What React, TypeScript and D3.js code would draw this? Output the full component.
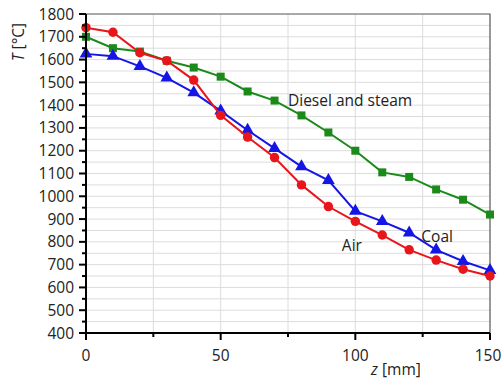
import { useEffect, useRef } from "react";
import * as d3 from "d3";

const zPositions = [0, 10, 20, 30, 40, 50, 60, 70, 80, 90, 100, 110, 120, 130, 140, 150];
const airTemps = [1740, 1720, 1630, 1595, 1510, 1355, 1260, 1170, 1050, 955, 890, 830, 765, 720, 680, 650];
const coalTemps = [1625, 1615, 1570, 1520, 1455, 1375, 1290, 1210, 1130, 1070, 935, 890, 840, 765, 715, 675];
const dieselTemps = [1700, 1650, 1635, 1595, 1565, 1525, 1460, 1420, 1355, 1280, 1200, 1105, 1085, 1030, 985, 920];
const yTicks = [400, 500, 600, 700, 800, 900, 1000, 1100, 1200, 1300, 1400, 1500, 1600, 1700, 1800];
const xTicks = [0, 50, 100, 150];

const FONT = "'Open Sans', sans-serif";

export default function App() {
  const svgRef = useRef<SVGSVGElement>(null);

  useEffect(() => {
    if (!svgRef.current) return;
    const svg = d3.select(svgRef.current);
    svg.selectAll("*").remove();

    const left = 86, right = 490, top = 14, bottom = 333;
    const x = d3.scaleLinear().domain([0, 150]).range([left, right]);
    const y = d3.scaleLinear().domain([400, 1800]).range([bottom, top]);

    // ── Grid ──────────────────────────────────────────
    const g = svg.append("g");
    g.selectAll("line.hg")
      .data(d3.range(450, 1800, 50))
      .join("line")
      .attr("x1", left).attr("x2", right)
      .attr("y1", (d) => y(d)).attr("y2", (d) => y(d))
      .attr("stroke", "#dcdcdc").attr("stroke-width", 1);
    g.selectAll("line.vg")
      .data([25, 50, 75, 100, 125])
      .join("line")
      .attr("x1", (d) => x(d)).attr("x2", (d) => x(d))
      .attr("y1", top).attr("y2", bottom)
      .attr("stroke", "#dcdcdc").attr("stroke-width", 1);

    // frame top/right
    svg.append("path")
      .attr("d", `M${left},${top}H${right}V${bottom}`)
      .attr("fill", "none").attr("stroke", "#555").attr("stroke-width", 1.2);

    // ── Series ───────────────────────────────────────
    const series = [
      { vals: dieselTemps, color: "#1b8a1b", marker: "square" },
      { vals: coalTemps, color: "#1515e6", marker: "triangle" },
      { vals: airTemps, color: "#e8151b", marker: "circle" },
    ];
    const line = d3.line<number>().x((_, i) => x(zPositions[i])).y((d) => y(d));
    series.forEach((s) => {
      svg.append("path")
        .attr("d", line(s.vals))
        .attr("fill", "none").attr("stroke", s.color).attr("stroke-width", 2);
      const sym =
        s.marker === "square" ? d3.symbol(d3.symbolSquare, 64)
        : s.marker === "triangle" ? d3.symbol(d3.symbolTriangle, 70)
        : d3.symbol(d3.symbolCircle, 70);
      svg.selectAll(null)
        .data(s.vals)
        .join("path")
        .attr("d", sym()!)
        .attr("transform", (d, i) => `translate(${x(zPositions[i])},${y(d)})`)
        .attr("fill", s.color);
    });

    // ── Axes ─────────────────────────────────────────
    const ax = svg.append("g").attr("stroke", "#000").attr("stroke-width", 2);
    ax.append("line").attr("x1", left).attr("x2", left).attr("y1", top).attr("y2", bottom + 1);
    ax.append("line").attr("x1", left - 1).attr("x2", right).attr("y1", bottom).attr("y2", bottom);
    ax.selectAll("line.yt")
      .data(d3.range(400, 1801, 50))
      .join("line")
      .attr("x1", (d) => (d % 100 === 0 ? left - 7 : left - 4)).attr("x2", left)
      .attr("y1", (d) => y(d)).attr("y2", (d) => y(d));
    ax.selectAll("line.xt")
      .data([0, 25, 50, 75, 100, 125, 150])
      .join("line")
      .attr("x1", (d) => x(d)).attr("x2", (d) => x(d))
      .attr("y1", bottom).attr("y2", (d) => (d % 50 === 0 ? bottom + 7 : bottom + 4));

    svg.selectAll("text.yl")
      .data(yTicks)
      .join("text")
      .attr("x", left - 12).attr("y", (d) => y(d) + 5.5)
      .attr("text-anchor", "end")
      .attr("font-family", FONT).attr("font-size", 15.5).attr("fill", "#222")
      .text((d) => d);
    svg.selectAll("text.xl")
      .data(xTicks)
      .join("text")
      .attr("x", (d) => (d === 150 ? x(d) - 2 : x(d))).attr("y", 361)
      .attr("text-anchor", "middle")
      .attr("font-family", FONT).attr("font-size", 15.5).attr("fill", "#222")
      .text((d) => d);

    // axis titles
    const yt = svg.append("text")
      .attr("transform", `translate(24,42) rotate(-90)`)
      .attr("text-anchor", "middle")
      .attr("font-family", FONT).attr("font-size", 15.5).attr("fill", "#222");
    yt.append("tspan").attr("font-style", "italic").text("T");
    yt.append("tspan").text(" [°C]");
    const xt = svg.append("text")
      .attr("x", 396).attr("y", 375)
      .attr("text-anchor", "middle")
      .attr("font-family", FONT).attr("font-size", 15.5).attr("fill", "#222");
    xt.append("tspan").attr("font-style", "italic").text("z");
    xt.append("tspan").text(" [mm]");

    // series labels
    const labels = [
      { t: "Diesel and steam", z: 75, v: 1395 },
      { t: "Coal", z: 124.5, v: 800 },
      { t: "Air", z: 95, v: 760 },
    ];
    svg.selectAll("text.sl")
      .data(labels)
      .join("text")
      .attr("x", (d) => x(d.z)).attr("y", (d) => y(d.v))
      .attr("font-family", FONT).attr("font-size", 15.5).attr("fill", "#222")
      .text((d) => d.t);
  }, []);

  return (
    <svg
      ref={svgRef}
      width={503}
      height={380}
      style={{ position: "absolute", left: 0, top: 0, display: "block", background: "#fff" }}
    />
  );
}
